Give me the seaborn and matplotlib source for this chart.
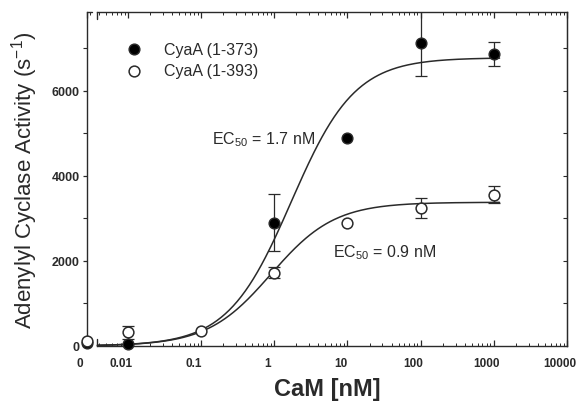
import numpy as np
import seaborn as sns
import matplotlib.pyplot as plt
import matplotlib.transforms as mtransforms
from matplotlib.ticker import LogLocator, MultipleLocator, NullFormatter, FixedLocator, FixedFormatter

# data (0 nM is drawn on the broken left end of the log axis)
zero_pos = 10 ** -2.56
tick_vals = [zero_pos, 0.01, 0.1, 1, 10, 100, 1000, 10000]
tick_labels = ["0", "0.01", "0.1", "1", "10", "100", "1000", "10000"]

cyaa373_x = [0, 0.01, 1, 10, 100, 1000]
cyaa373_y = [60, 50, 2900, 4900, 7130, 6870]
cyaa373_err = [0, 0, 670, 0, 780, 290]

cyaa393_x = [0, 0.01, 0.1, 1, 10, 100, 1000]
cyaa393_y = [120, 320, 350, 1720, 2900, 3250, 3560]
cyaa393_err = [0, 150, 0, 130, 0, 240, 200]

# Hill fits (n = 1) with the EC50 values printed on the chart
vmax373, ec50_373 = 6780, 1.7
vmax393, ec50_393 = 3380, 0.9

sns.set_style("ticks")
plt.rcParams['font.family'] = ['Liberation Sans', 'DejaVu Sans']
plt.rcParams['mathtext.fontset'] = 'custom'
plt.rcParams['mathtext.rm'] = 'Liberation Sans'
plt.rcParams['mathtext.default'] = 'regular'

ink = '#2a2a2a'
fig = plt.figure(figsize=(5.85, 4.02), dpi=100)
ax = fig.add_axes([0.149, 0.137, 0.82, 0.831])


def xpos(vals):
    return np.array([zero_pos if v == 0 else v for v in vals])


# fitted curves
fit_x = np.logspace(np.log10(0.0038), np.log10(1200), 300)
sns.lineplot(x=fit_x, y=vmax373 * fit_x / (ec50_373 + fit_x), ax=ax, color=ink, lw=1.1, zorder=2)
sns.lineplot(x=fit_x, y=vmax393 * fit_x / (ec50_393 + fit_x), ax=ax, color=ink, lw=1.1, zorder=2)

# error bars
for xs, ys, es in [(cyaa373_x, cyaa373_y, cyaa373_err), (cyaa393_x, cyaa393_y, cyaa393_err)]:
    xs, ys, es = xpos(xs), np.array(ys), np.array(es)
    m = es > 0
    ax.errorbar(xs[m], ys[m], yerr=es[m], fmt='none', ecolor=ink, elinewidth=0.9,
                capsize=4, capthick=0.9, zorder=2.5)

# points
sns.scatterplot(x=xpos(cyaa373_x), y=cyaa373_y, ax=ax, marker='o', s=60, color='black',
                edgecolor=ink, linewidth=1.0, zorder=3, clip_on=False, label='CyaA (1-373)')
sns.scatterplot(x=xpos(cyaa393_x), y=cyaa393_y, ax=ax, marker='o', s=60, color='white',
                edgecolor=ink, linewidth=1.1, zorder=4, clip_on=False, label='CyaA (1-393)')

ax.set_xscale('log')
ax.set_xlim(zero_pos, 10000)
ax.set_ylim(0, 7860)

# x axis
ax.xaxis.set_major_locator(FixedLocator(tick_vals))
ax.xaxis.set_major_formatter(FixedFormatter(tick_labels))
ax.xaxis.set_minor_locator(LogLocator(base=10, subs=np.arange(2, 10)))
ax.xaxis.set_minor_formatter(NullFormatter())
ax.tick_params(axis='x', which='both', direction='in', top=True, bottom=True, colors=ink,
               labelsize=8.5, pad=8)
ax.tick_params(axis='x', which='major', length=4, width=0.9)
ax.tick_params(axis='x', which='minor', length=2.2, width=0.7)
for lab in ax.get_xticklabels():
    lab.set_fontweight('bold')
    lab.set_transform(lab.get_transform() + mtransforms.ScaledTranslation(-0.07, 0, fig.dpi_scale_trans))

# y axis
ax.yaxis.set_major_locator(MultipleLocator(2000))
ax.yaxis.set_minor_locator(MultipleLocator(1000))
ax.tick_params(axis='y', which='both', direction='out', left=True, colors=ink, labelsize=9, pad=2.5)
ax.tick_params(axis='y', which='major', length=3, width=0.9)
ax.tick_params(axis='y', which='minor', length=3, width=0.8)
for lab in ax.get_yticklabels():
    lab.set_fontweight('bold')
# right side ticks point inward
ay2 = ax.secondary_yaxis('right')
ay2.yaxis.set_major_locator(MultipleLocator(1000))
ay2.tick_params(direction='in', length=3, width=0.8, colors=ink, labelright=False)
ay2.spines['right'].set_color(ink)

for sp in ax.spines.values():
    sp.set_color(ink)
    sp.set_linewidth(1.0)
ax.spines['right'].set_visible(True)
ax.spines['top'].set_visible(True)
# axis break after the "0" position
ax.spines['bottom'].set_bounds(0.0038, 10000)
ax.spines['top'].set_bounds(0.0038, 10000)
xt = ax.get_xaxis_transform()
ax.plot([zero_pos, 0.0032], [1, 1], transform=xt, color=ink, lw=1.0, clip_on=False)
ax.plot([0.0038, 0.0038], [0, 0.022], transform=xt, color=ink, lw=1.0, clip_on=False)
ax.plot([0.0038, 0.0038], [1, 0.978], transform=xt, color=ink, lw=1.0, clip_on=False)

ax.set_xlabel('CaM [nM]', fontsize=17, fontweight='bold', color=ink, labelpad=6)
ax.set_ylabel('Adenylyl Cyclase Activity (s$^{-1}$)', fontsize=16, color=ink, labelpad=8)

ax.text(0.14, 4870, 'EC$_{50}$ = 1.7 nM', fontsize=11.5, color=ink, va='center', ha='left')
ax.text(6.4, 2210, 'EC$_{50}$ = 0.9 nM', fontsize=11.5, color=ink, va='center', ha='left')

ax.legend(loc='upper left', bbox_to_anchor=(0.05, 0.93), frameon=False, fontsize=11.5,
          handletextpad=0.9, labelspacing=0.4, borderaxespad=0, labelcolor=ink)

fig.savefig('out.png', dpi=100)
